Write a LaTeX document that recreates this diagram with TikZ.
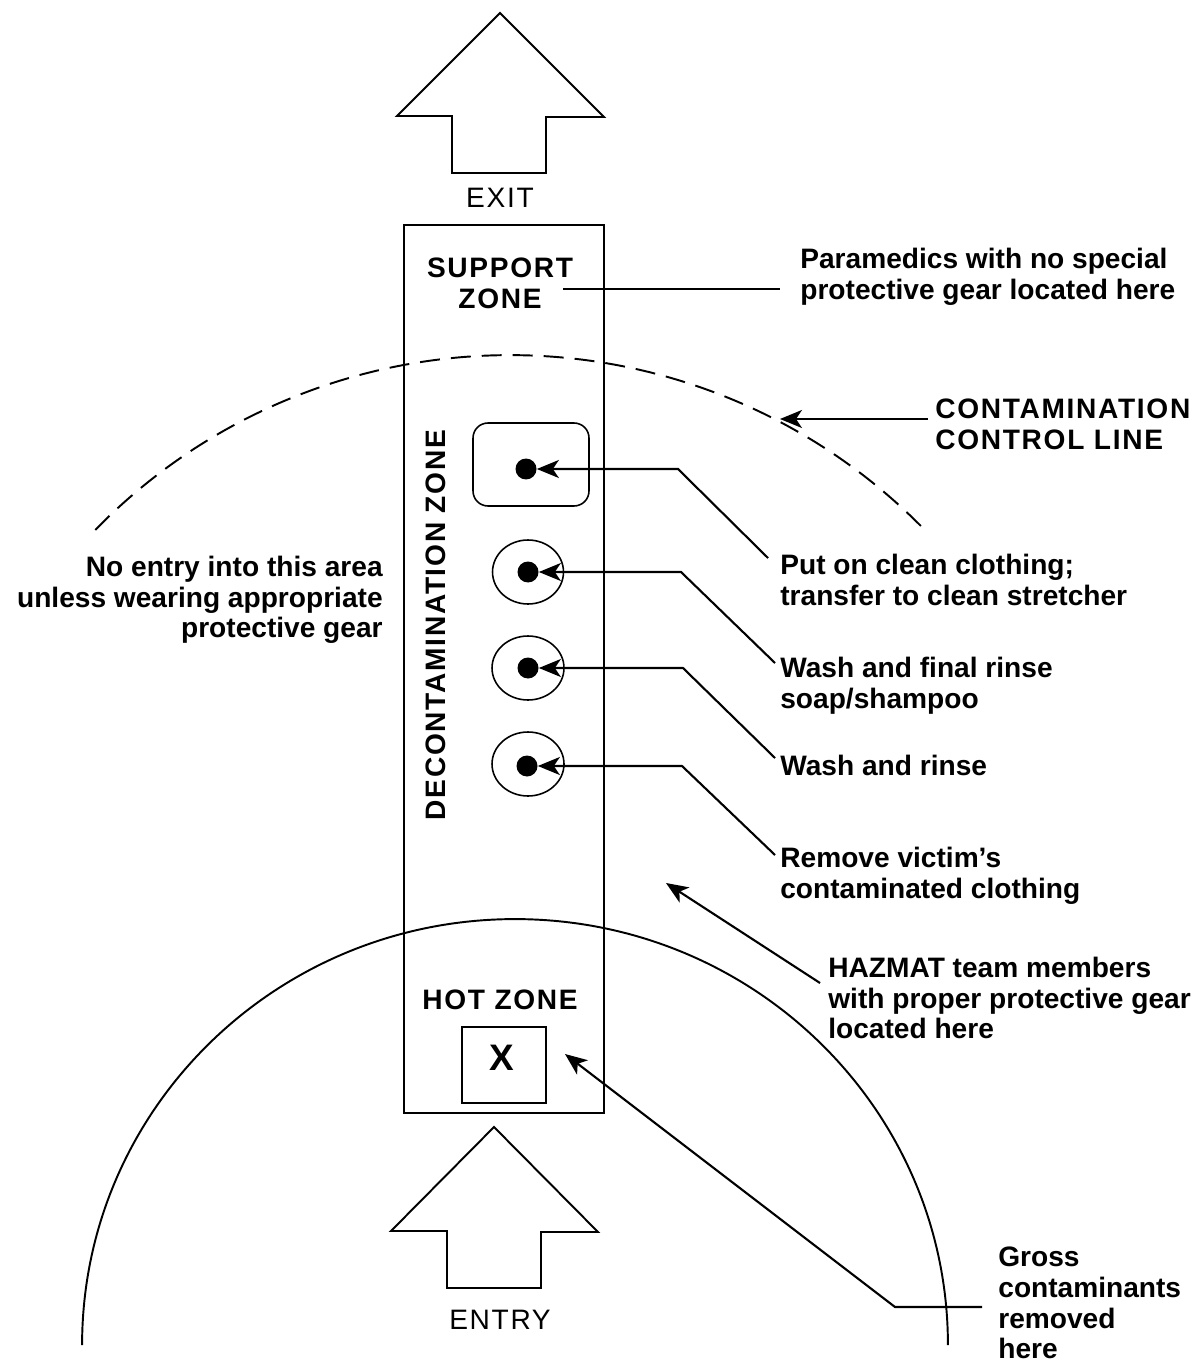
\documentclass[tikz,border=0pt]{standalone}
\usepackage{fontspec}
\setmainfont{Liberation Sans}
\newfontfamily\capsfont[LetterSpace=6]{Liberation Sans}
\usetikzlibrary{arrows.meta,shapes.geometric}
\tikzset{
  ln/.style={line width=1.1pt, line join=miter},
  arr/.style={line width=1.2pt, -{Stealth[length=0.44cm,width=0.36cm,inset=0.12cm]}},
  body/.style={font=\bfseries\fontsize{16}{17.5}\selectfont, align=left, inner sep=0},
  bodyr/.style={font=\bfseries\fontsize{16}{17.5}\selectfont, align=right, inner sep=0},
  capsl/.style={font=\capsfont\bfseries\fontsize{16}{17.5}\selectfont, align=center, inner sep=0},
  capsleft/.style={font=\capsfont\bfseries\fontsize{16}{17.5}\selectfont, align=left, inner sep=0},
  dirlabel/.style={font=\capsfont\fontsize{16}{17.5}\selectfont, inner sep=0},
  station/.style={draw, ellipse, line width=0.9pt, minimum width=1.42cm, minimum height=1.28cm, inner sep=0},
  dot/.style={circle, fill=black, minimum size=0.42cm, inner sep=0},
}
\begin{document}
\begin{tikzpicture}[x=0.02cm,y=-0.02cm]
\useasboundingbox (0,0) rectangle (1202,1364);

% exit and entry arrows
\draw[ln] (500,13) -- (604,117) -- (546,117) -- (546,173) -- (452,173) -- (452,116) -- (397,116) -- cycle;
\node[dirlabel] (exit) at (500,198) {EXIT};
\draw[ln] (494,1127) -- (598,1232) -- (541,1232) -- (541,1288) -- (447,1288) -- (447,1231) -- (391,1231) -- cycle;
\node[dirlabel] (entry) at (500,1320) {ENTRY};

% zone strip
\node[draw, ln, minimum width=4cm, minimum height=17.76cm, inner sep=0] (zones) at (504,669) {};
\node[capsl] (support) at (500,283) {SUPPORT\\ZONE};
\node[capsl, rotate=90] (decon) at (436,625) {DECONTAMINATION ZONE};
\node[capsl] (hot) at (500,1000) {HOT ZONE};
\node[draw, ln, minimum width=1.68cm, minimum height=1.52cm, inner sep=0] (xbox) at (504,1065) {};
\node[font=\bfseries\fontsize{21}{24}\selectfont, inner sep=0] (xmark) at (502,1058) {X};

% contamination control line and hot zone boundary
\draw[ln, dash pattern=on 0.4cm off 0.22cm] (510,934.6) ++(135.7:11.592cm) arc[start angle=135.7, end angle=44.5, radius=11.592cm];
\draw[ln] (515,1345) ++(180:8.66cm and 8.52cm) arc[start angle=180, end angle=0, x radius=8.66cm, y radius=8.52cm];

% stations
\node[draw, line width=0.9pt, rounded corners=0.3cm, minimum width=2.32cm, minimum height=1.66cm, inner sep=0] (st1) at (531,464.5) {};
\node[station] (st2) at (528,572) {};
\node[station, minimum width=1.44cm] (st3) at (528,668) {};
\node[station, minimum width=1.44cm] (st4) at (528,764) {};
\node[dot] (d1) at (526,469) {};
\node[dot] (d2) at (528,572) {};
\node[dot] (d3) at (528,668) {};
\node[dot] (d4) at (527,766) {};

% texts
\node[body, anchor=west] (para) at (800,277) {Paramedics with no special\\protective gear located here};
\node[capsleft, anchor=west] (ccl) at (935,424) {CONTAMINATION\\CONTROL LINE};
\node[bodyr, anchor=east] (noentry) at (383,600) {No entry into this area\\unless wearing appropriate\\protective gear};
\node[body, anchor=west] (t1) at (780,580) {Put on clean clothing;\\transfer to clean stretcher};
\node[body, anchor=west] (t2) at (780,686) {Wash and final rinse\\soap/shampoo};
\node[body, anchor=west] (t3) at (780,765) {Wash and rinse};
\node[body, anchor=west] (t4) at (780,876) {Remove victim’s\\contaminated clothing};
\node[body, anchor=west] (t5) at (828,998) {HAZMAT team members\\with proper protective gear\\located here};
\node[body, anchor=west] (t6) at (998,1303) {Gross\\contaminants\\removed\\here};

% connector points
\coordinate (supA) at (563,289);
\coordinate (supB) at (780,289);
\coordinate (cclA) at (928,419);
\coordinate (cclB) at (780,419);
\coordinate (s1) at (768,558);
\coordinate (e1) at (678,469);
\coordinate (s2) at (775,663);
\coordinate (e2) at (681,572);
\coordinate (s3) at (775,758);
\coordinate (e3) at (683,668);
\coordinate (s4) at (775,855);
\coordinate (e4) at (682,766);
\coordinate (hzA) at (820,983);
\coordinate (hzB) at (666,883);
\coordinate (gA) at (982,1307);
\coordinate (gK) at (895,1307);
\coordinate (gB) at (565,1054);

% connectors
\draw[ln] (supA) -- (supB);
\draw[arr] (cclA) -- (cclB);
\draw[arr] (s1) -- (e1) -- (d1);
\draw[arr] (s2) -- (e2) -- (d2);
\draw[arr] (s3) -- (e3) -- (d3);
\draw[arr] (s4) -- (e4) -- (d4);
\draw[arr] (hzA) -- (hzB);
\draw[arr] (gA) -- (gK) -- (gB);
\end{tikzpicture}
\end{document}
